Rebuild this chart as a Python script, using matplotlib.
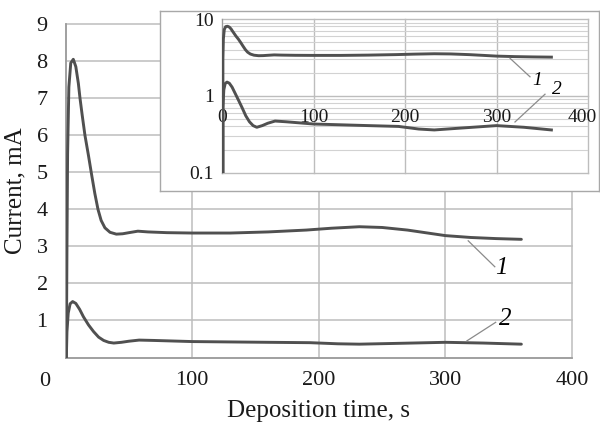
import matplotlib
matplotlib.use("Agg")
import matplotlib.pyplot as plt

W, H = 600, 426

# deposition time, s
t1 = [0.5, 1.0, 1.5, 2.5, 4, 6, 8, 10, 11.3, 13, 15.2, 18, 20.5, 23, 25.5, 28, 31, 35, 40,
      45, 50, 57, 65, 80, 100, 130, 160, 190, 210, 232, 250, 270, 290, 300, 320, 340, 360]
# current, mA (curve 1)
i1 = [0, 3.0, 5.5, 7.3, 7.95, 8.05, 7.85, 7.4, 7.0, 6.55, 6.0, 5.45, 4.93, 4.43, 4.0, 3.7,
      3.5, 3.38, 3.33, 3.34, 3.37, 3.41, 3.39, 3.37, 3.36, 3.36, 3.39, 3.44, 3.49, 3.53,
      3.51, 3.44, 3.34, 3.29, 3.24, 3.21, 3.19]

t2 = [0.5, 1.0, 2, 3.5, 5.5, 8, 11, 14, 18, 22, 26, 30, 34, 38, 44, 50, 58, 70, 100,
      130, 160, 193, 215, 232, 260, 300, 330, 360]
# current, mA (curve 2)
i2 = [0, 0.7, 1.2, 1.45, 1.51, 1.46, 1.3, 1.1, 0.88, 0.7, 0.55, 0.46, 0.41, 0.39, 0.41,
      0.44, 0.47, 0.46, 0.43, 0.42, 0.41, 0.40, 0.37, 0.36, 0.38, 0.41, 0.39, 0.36]

x_ticks = [0, 100, 200, 300, 400]
y_ticks = [0, 1, 2, 3, 4, 5, 6, 7, 8, 9]
inset_y_ticks = [0.1, 1, 10]

LINE = '#505050'
GRID = '#bdbdbd'
AXIS = '#9a9a9a'
SERIF = ['Liberation Serif', 'DejaVu Serif']

plt.rcParams['font.family'] = SERIF


def box(left, top, right, bottom):
    """Pixel box -> figure fraction [l, b, w, h]."""
    return [left / W, 1 - bottom / H, (right - left) / W, (bottom - top) / H]


fig = plt.figure(figsize=(W / 100, H / 100), dpi=100)

# main plot
ax = fig.add_axes(box(65.7, 24.1, 572, 357.5))
ax.plot(t1, i1, color=LINE, lw=2.1, solid_capstyle='round', solid_joinstyle='round', zorder=3)
ax.plot(t2, i2, color=LINE, lw=2.1, solid_capstyle='round', solid_joinstyle='round', zorder=3)
ax.set_xlim(0, 400)
ax.set_ylim(0, 9)
ax.set_xticks(x_ticks)
ax.set_yticks(y_ticks)
ax.set_xticklabels([''] + [str(v) for v in x_ticks[1:]])
ax.set_yticklabels([''] + [str(v) for v in y_ticks[1:]])
ax.tick_params(length=0, labelsize=16, colors='#1a1a1a')
ax.tick_params(axis='y', pad=13)
ax.tick_params(axis='x', pad=10)
ax.grid(True, color=GRID, lw=1.1)
for g in ax.get_xgridlines() + ax.get_ygridlines():
    g.set_clip_on(False)
for s in ['top', 'right']:
    ax.spines[s].set_visible(False)
for s in ['left', 'bottom']:
    ax.spines[s].set_color(AXIS)
    ax.spines[s].set_linewidth(1.2)
ax.set_xlabel('Deposition time, s', fontsize=18, labelpad=7, color='#1a1a1a')
ax.set_ylabel('Current, mA', fontsize=18, labelpad=7, color='#1a1a1a')
fig.text(45 / W, 1 - 381.7 / H, '0', fontsize=16, ha='center', va='center', color='#1a1a1a')

# curve labels with leader lines
ax.plot([318, 339], [3.15, 2.45], color='#8a8a8a', lw=0.9, zorder=4)
ax.text(344.5, 2.42, '1', fontsize=18, style='italic', ha='center', va='center')
ax.plot([317, 339.7], [0.45, 0.95], color='#8a8a8a', lw=0.9, zorder=4)
ax.text(347, 1.03, '2', fontsize=18, style='italic', ha='center', va='center')

# inset frame
frame = fig.add_axes(box(160, 11, 599, 191))
frame.set_xticks([])
frame.set_yticks([])
frame.set_facecolor('white')
for s in frame.spines.values():
    s.set_color('#a8a8a8')
    s.set_linewidth(1.0)

# inset, log scale
ins = fig.add_axes(box(222, 19, 588, 172.7))
ins.set_yscale('log')
ins.plot(t1, i1, color=LINE, lw=2.1, solid_joinstyle='round', zorder=3)
ins.plot(t2, i2, color=LINE, lw=2.1, solid_joinstyle='round', zorder=3)
ins.set_xlim(0, 400)
ins.set_ylim(0.1, 10)
ins.set_xticks(x_ticks)
ins.set_yticks(inset_y_ticks)
ins.set_yticklabels(['0.1', '1', '10'])
ins.set_xticklabels([])
ins.tick_params(which='both', length=0, labelsize=14, colors='#1a1a1a')
ins.tick_params(axis='y', pad=6)
ins.grid(True, which='major', color=GRID, lw=1.0)
ins.grid(True, which='minor', axis='y', color='#d2d2d2', lw=0.8)
for g in ins.get_xgridlines() + ins.get_ygridlines():
    g.set_clip_on(False)
for s in ['top', 'right', 'bottom']:
    ins.spines[s].set_visible(False)
ins.spines['left'].set_color(AXIS)
for v in x_ticks:
    xv = min(v, 394)
    ins.text(xv, 0.53, str(v), fontsize=14, ha='center', va='center', color='#1a1a1a', zorder=2)

ins.plot([314.8, 336.6], [3.08, 1.77], color='#8a8a8a', lw=0.9, zorder=4)
ins.text(344.6, 1.60, '1', fontsize=14, style='italic', ha='center', va='center')
ins.plot([320.2, 353], [0.457, 1.05], color='#8a8a8a', lw=0.9, zorder=4)
ins.text(365.8, 1.21, '2', fontsize=14, style='italic', ha='center', va='center')

fig.savefig('out.png', dpi=100, facecolor='white')
